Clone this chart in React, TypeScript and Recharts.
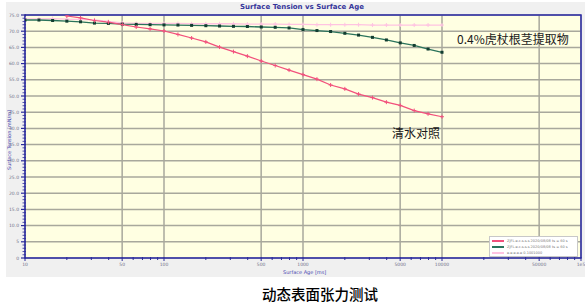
import React from 'react';
import {
    LineChart,
    Line,
    XAxis,
    YAxis,
    CartesianGrid,
    ReferenceArea,
} from 'recharts';

// surface age in ms (log spaced as in the instrument export)
const ages = [10, 12.6, 15.8, 20, 25.1, 31.6, 39.8, 50.1, 63.1, 79.4, 100, 126, 158, 200, 251, 316, 398, 501, 631, 794, 1000, 1260, 1580, 2000, 2510, 3160, 3980, 5010, 6310, 7940, 10000];

// 清水对照 (red)
const water = [null, null, null, 74.7, 74.1, 73.3, 72.8, 72.05, 71.3, 70.7, 70.06, 69.0, 67.9, 66.7, 65.1, 63.7, 62.3, 60.8, 59.4, 58.0, 56.6, 55.2, 53.4, 52.2, 50.6, 49.5, 48.1, 47.1, 45.5, 44.5, 43.6];

// 0.4% extract (green)
const extract = [73.45, 73.45, 73.3, 73.1, 72.9, 72.5, 72.4, 72.2, 72.1, 72.0, 71.95, 71.9, 71.8, 71.7, 71.6, 71.5, 71.45, 71.3, 71.2, 71.0, 70.5, 70.2, 69.9, 69.35, 68.8, 68.1, 67.3, 66.4, 65.6, 64.5, 63.5];

// reference run (light pink)
const reference = [73.8, 73.8, 73.9, 73.7, 73.6, 73.5, 73.0, 72.6, 72.4, 72.4, 72.4, 72.4, 72.3, 72.3, 72.3, 72.3, 72.2, 72.2, 72.2, 72.1, 72.1, 72.0, 72.0, 72.0, 72.0, 71.9, 71.9, 71.9, 71.9, 71.9, 71.9];

const xTicks = [10, 50, 100, 500, 1000, 5000, 10000, 50000, 100000];
const xTickLabels = ['10', '50', '100', '500', '1000', '5000', '10000', '50000', '1e5'];
const xMinorTicks = [20, 30, 40, 60, 70, 80, 90, 200, 300, 400, 600, 700, 800, 900, 2000, 3000, 4000, 6000, 7000, 8000, 9000, 20000, 30000, 40000, 60000, 70000, 80000, 90000];
const yTicks = [0, 5, 10, 15, 20, 25, 30, 35, 40, 45, 50, 55, 60, 65, 70, 75];
const yMinorTicks = [1, 2, 3, 4, 6, 7, 8, 9, 11, 12, 13, 14, 16, 17, 18, 19, 21, 22, 23, 24, 26, 27, 28, 29, 31, 32, 33, 34, 36, 37, 38, 39, 41, 42, 43, 44, 46, 47, 48, 49, 51, 52, 53, 54, 56, 57, 58, 59, 61, 62, 63, 64, 66, 67, 68, 69, 71, 72, 73, 74];

const legendItems = [
    { color: '#f2507c', text: 'ZJFL.e.c.s.s.s 2020/08/08 ts = 60 s' },
    { color: '#2a735b', text: 'ZJFL.e.c.s.s.s 2020/08/08 ts = 60 s' },
    { color: '#ffc3e1', text: 'e.e.e.e.e 0.1001000' },
];

const data = ages.map((age, i) => ({
    age,
    water: water[i],
    extract: extract[i],
    reference: reference[i],
}));

const allX = [...xTicks, ...xMinorTicks].sort((a, b) => a - b);
const allY = [...yTicks, ...yMinorTicks].sort((a, b) => a - b);

const labelStyle = { fontSize: 4.5, fill: '#70708a', fontFamily: 'DejaVu Sans' };

const XTick = (props: any) => {
    const { x, y, payload } = props;
    const i = xTicks.indexOf(payload.value);
    const major = i >= 0;
    return (
        <g>
            <line x1={x} x2={x} y1={y - 1} y2={y + (major ? 3 : 2)} stroke="#2b2b9a" strokeWidth={1} />
            {major && (
                <text x={x} y={y + 8} textAnchor="middle" {...labelStyle}>{xTickLabels[i]}</text>
            )}
        </g>
    );
};

const YTick = (props: any) => {
    const { x, y, payload } = props;
    const v = payload.value;
    const major = yTicks.includes(v);
    return (
        <g>
            <line x1={x - (major ? 4 : 2.5)} x2={x + 1} y1={y} y2={y} stroke="#2b2b9a" strokeWidth={major ? 1.2 : 0.8} />
            {major && (
                <text x={x - 6} y={y + 1.5} textAnchor="end" {...labelStyle}>{v === 0 ? '0' : v === 5 ? '5' : v.toFixed(1)}</text>
            )}
        </g>
    );
};

const PlusDot = (props: any) => {
    const { cx, cy, stroke } = props;
    if (cx == null || cy == null) return null;
    return <path d={`M${cx - 2},${cy}H${cx + 2}M${cx},${cy - 2}V${cy + 2}`} stroke={stroke} strokeWidth={1} />;
};

const SquareDot = (props: any) => {
    const { cx, cy } = props;
    if (cx == null || cy == null) return null;
    return <rect x={cx - 1.5} y={cy - 1.5} width={3} height={3} fill="#123d30" />;
};

export default function App() {
    return (
        <div style={{ position: 'absolute', left: 0, top: 0, width: 585, height: 303, background: '#ffffff' }}>
            <div style={{ position: 'absolute', left: 6, top: 2, width: 579, height: 275, background: '#f0f0f0' }} />
            <div style={{ position: 'absolute', left: 0, top: 0 }}>
                <LineChart width={585} height={280} data={data} margin={{ top: 15, right: 4, left: 0, bottom: 0 }}>
                    <CartesianGrid
                        fill="#ffffe2"
                        stroke="#a8a89c"
                        strokeWidth={1.5}
                        horizontalValues={yTicks}
                        verticalValues={xTicks}
                    />
                    <XAxis
                        dataKey="age"
                        type="number"
                        scale="log"
                        domain={[10, 100000]}
                        ticks={allX}
                        interval={0}
                        tick={<XTick />}
                        tickLine={false}
                        tickSize={0}
                        tickMargin={0}
                        axisLine={false}
                        height={22}
                        allowDataOverflow
                    />
                    <YAxis
                        type="number"
                        domain={[0, 75]}
                        ticks={allY}
                        interval={0}
                        tick={<YTick />}
                        tickLine={false}
                        tickSize={0}
                        tickMargin={0}
                        axisLine={false}
                        width={25}
                        allowDataOverflow
                    />
                    <ReferenceArea x1={10} x2={100000} y1={0} y2={75} fill="none" stroke="#2b2ba8" strokeWidth={1.5} ifOverflow="visible" />
                    <Line dataKey="reference" stroke="#ffc3e1" strokeWidth={1.3} dot={<PlusDot />} isAnimationActive={false} />
                    <Line dataKey="extract" stroke="#2a735b" strokeWidth={1.3} dot={<SquareDot />} isAnimationActive={false} />
                    <Line dataKey="water" stroke="#f2507c" strokeWidth={1.2} dot={<PlusDot />} connectNulls isAnimationActive={false} />
                </LineChart>
            </div>
            <div style={{ position: 'absolute', left: 0, width: 604, top: 3, textAlign: 'center', fontFamily: 'DejaVu Sans', fontWeight: 'bold', fontSize: 7, color: '#35359a' }}>
                Surface Tension vs Surface Age
            </div>
            <div style={{ position: 'absolute', left: 9, top: 140, transform: 'translate(-50%, -50%) rotate(-90deg)', whiteSpace: 'nowrap', fontFamily: 'DejaVu Sans', fontSize: 5, color: '#4a4ab0' }}>
                Surface Tension [mN/m]
            </div>
            <div style={{ position: 'absolute', left: 283, top: 269, whiteSpace: 'nowrap', fontFamily: 'DejaVu Sans', fontSize: 5, color: '#4a4ab0' }}>
                Surface Age [ms]
            </div>
            <div style={{ position: 'absolute', left: 489, top: 236, width: 89, height: 21, background: '#ffffff', border: '1px solid #c8c8c8', boxSizing: 'border-box', padding: '1px 2px' }}>
                {legendItems.map(item => (
                    <div key={item.text + item.color} style={{ display: 'flex', alignItems: 'center', height: 6 }}>
                        <div style={{ width: 12, height: 2, background: item.color, marginRight: 3 }} />
                        <span style={{ fontFamily: 'DejaVu Sans', fontSize: 3.5, color: '#777777', whiteSpace: 'nowrap' }}>{item.text}</span>
                    </div>
                ))}
            </div>
            <div style={{ position: 'absolute', left: 457, top: 30, fontFamily: '"Noto Sans CJK SC"', fontSize: 12, color: '#1a1a1a', whiteSpace: 'nowrap' }}>
                0.4%虎杖根茎提取物
            </div>
            <div style={{ position: 'absolute', left: 392, top: 124, fontFamily: '"Noto Sans CJK SC"', fontSize: 12, color: '#1a1a1a', whiteSpace: 'nowrap' }}>
                清水对照
            </div>
            <div style={{ position: 'absolute', left: 0, width: 640, top: 283, textAlign: 'center', fontFamily: '"Noto Sans CJK SC"', fontWeight: 500, fontSize: 14.5, color: '#000000' }}>
                动态表面张力测试
            </div>
        </div>
    );
}
